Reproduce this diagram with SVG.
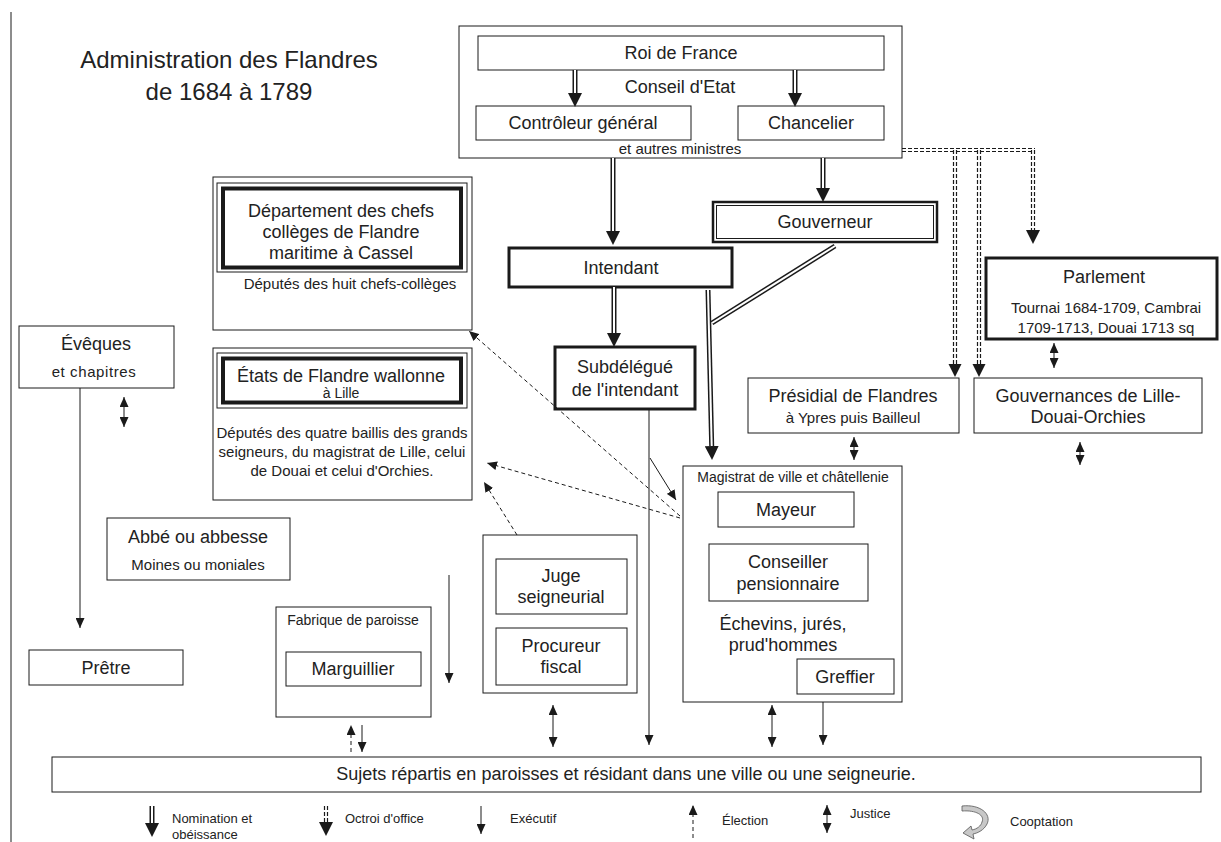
<svg xmlns="http://www.w3.org/2000/svg" width="1221" height="842" viewBox="0 0 1221 842">
<style>
text{font-family:"Liberation Sans",Arial,sans-serif;fill:#222;text-anchor:middle}
.t24{font-size:24px}
.t18{font-size:18px}
.t15{font-size:15px}
.t14{font-size:14px}
.t13{font-size:13px}
.st{text-anchor:start}
.b{fill:#fff;stroke:#1a1a1a;stroke-width:1}
.nf{fill:none;stroke:#1a1a1a;stroke-width:1}
.bk{fill:#fff;stroke:#1a1a1a;stroke-width:3}
.tk{fill:none;stroke:#1a1a1a;stroke-width:4}
.ln{fill:none;stroke:#1a1a1a;stroke-width:1}
.dl{fill:none;stroke:#1a1a1a;stroke-width:1;stroke-dasharray:4 3}
.dbo{fill:none;stroke:#1a1a1a;stroke-width:5}
.dbi{fill:none;stroke:#fff;stroke-width:2}
.oc{fill:none;stroke:#1a1a1a;stroke-width:1.2;stroke-dasharray:4 2}
.hd{fill:#1a1a1a}
</style>
<defs>
<marker id="H" markerUnits="userSpaceOnUse" viewBox="0 0 14 14" refX="0" refY="7" markerWidth="14" markerHeight="14" orient="auto"><path d="M0,0L14,7L0,14z" fill="#1a1a1a"/></marker>
<marker id="S" markerUnits="userSpaceOnUse" viewBox="0 0 10 9" refX="10" refY="4.5" markerWidth="10" markerHeight="9" orient="auto-start-reverse"><path d="M0,0L10,4.5L0,9z" fill="#1a1a1a"/></marker>
</defs>

<line x1="11" y1="12" x2="11" y2="842" class="ln"/>

<g id="title">
<text class="t24" x="229" y="68">Administration des Flandres</text>
<text class="t24" x="229" y="100">de 1684 à 1789</text>
</g>

<g id="conseil">
<rect x="459" y="26" width="443" height="132" class="b"/>
<text class="t18" x="680" y="93">Conseil d'Etat</text>
<text class="t15" x="680" y="154">et autres ministres</text>
</g>
<g id="roi">
<rect x="478" y="36" width="406" height="34" class="b"/>
<text class="t18" x="681" y="59">Roi de France</text>
</g>
<g id="controleur">
<rect x="476" y="106" width="215" height="34" class="b"/>
<text class="t18" x="583" y="129">Contrôleur général</text>
</g>
<g id="chancelier">
<rect x="738" y="106" width="146" height="34" class="b"/>
<text class="t18" x="811" y="129">Chancelier</text>
</g>

<g id="gouverneur">
<rect x="713" y="202" width="224" height="40" fill="#fff" stroke="#1a1a1a" stroke-width="2.5"/>
<rect x="716.5" y="205.5" width="217" height="33" class="nf"/>
<text class="t18" x="825" y="228">Gouverneur</text>
</g>

<g id="intendant">
<rect x="509" y="248" width="223" height="39" class="bk"/>
<text class="t18" x="621" y="274">Intendant</text>
</g>

<g id="subdelegue">
<rect x="555" y="347" width="140" height="62" class="bk"/>
<text class="t18" x="625" y="373">Subdélégué</text>
<text class="t18" x="625" y="396">de l'intendant</text>
</g>

<g id="departement">
<rect x="213" y="177" width="259" height="153" class="b"/>
<rect x="217" y="183" width="250" height="89" class="nf"/>
<rect x="223" y="188.5" width="238" height="79" class="tk"/>
<text class="t18" x="341" y="217">Département des chefs</text>
<text class="t18" x="341" y="238">collèges de Flandre</text>
<text class="t18" x="341" y="259">maritime à Cassel</text>
<text class="t15" x="350" y="289">Députés des huit chefs-collèges</text>
</g>

<g id="etats">
<rect x="213" y="348" width="259" height="152" class="b"/>
<rect x="217" y="353" width="250" height="55" class="nf"/>
<rect x="223" y="358.5" width="238" height="44" class="tk"/>
<text class="t18" x="341" y="382">États de Flandre wallonne</text>
<text class="t14" x="341" y="398">à Lille</text>
<text class="t15" x="342" y="438">Députés des quatre baillis des grands</text>
<text class="t15" x="342" y="457">seigneurs, du magistrat de Lille, celui</text>
<text class="t15" x="342" y="476">de Douai et celui d'Orchies.</text>
</g>

<g id="parlement">
<rect x="986" y="258" width="231" height="81" class="bk"/>
<text class="t18" x="1104" y="283">Parlement</text>
<text class="t15" x="1106" y="313">Tournai 1684-1709, Cambrai</text>
<text class="t15" x="1106" y="333">1709-1713, Douai 1713 sq</text>
</g>

<g id="presidial">
<rect x="748" y="378" width="211" height="55" class="b"/>
<text class="t18" x="853" y="402">Présidial de Flandres</text>
<text class="t15" x="853" y="423">à Ypres puis Bailleul</text>
</g>

<g id="gouvernances">
<rect x="974" y="378" width="228" height="55" class="b"/>
<text class="t18" x="1088" y="402">Gouvernances de Lille-</text>
<text class="t18" x="1088" y="423">Douai-Orchies</text>
</g>

<g id="eveques">
<rect x="19" y="326" width="155" height="62" class="b"/>
<text class="t18" x="96" y="350">Évêques</text>
<text class="t15" x="94" y="377" letter-spacing="0.6">et chapitres</text>
</g>

<g id="abbe">
<rect x="107" y="518" width="183" height="62" class="b"/>
<text class="t18" x="198" y="543">Abbé ou abbesse</text>
<text class="t15" x="198" y="570">Moines ou moniales</text>
</g>

<g id="pretre">
<rect x="29" y="650" width="154" height="35" class="b"/>
<text class="t18" x="106" y="674">Prêtre</text>
</g>

<g id="fabrique">
<rect x="276" y="607" width="155" height="110" class="b"/>
<text class="t14" x="353" y="625">Fabrique de paroisse</text>
</g>
<g id="marguillier">
<rect x="286" y="652" width="135" height="34" class="b"/>
<text class="t18" x="353" y="675">Marguillier</text>
</g>

<g id="seigneurie">
<rect x="483" y="535" width="154" height="158" class="b"/>
</g>
<g id="juge">
<rect x="496" y="559" width="131" height="55" class="b"/>
<text class="t18" x="561" y="582">Juge</text>
<text class="t18" x="561" y="603">seigneurial</text>
</g>
<g id="procureur">
<rect x="496" y="628" width="131" height="57" class="b"/>
<text class="t18" x="561" y="652">Procureur</text>
<text class="t18" x="561" y="673">fiscal</text>
</g>

<g id="magistrat">
<rect x="683" y="466" width="219" height="236" class="b"/>
<text class="t14" x="793" y="482">Magistrat de ville et châtellenie</text>
<text class="t18" x="783" y="630">Échevins, jurés,</text>
<text class="t18" x="783" y="651">prud'hommes</text>
</g>
<g id="mayeur">
<rect x="718" y="492" width="136" height="35" class="b"/>
<text class="t18" x="786" y="516">Mayeur</text>
</g>
<g id="conseiller">
<rect x="709" y="544" width="159" height="57" class="b"/>
<text class="t18" x="788" y="568">Conseiller</text>
<text class="t18" x="788" y="590">pensionnaire</text>
</g>
<g id="greffier">
<rect x="797" y="659" width="97" height="35" class="b"/>
<text class="t18" x="845" y="683">Greffier</text>
</g>

<g id="sujets">
<rect x="52" y="757" width="1149" height="35" class="b"/>
<text class="t18" x="626" y="780">Sujets répartis en paroisses et résidant dans une ville ou une seigneurie.</text>
</g>

<g id="connectors">
<path class="dbo" d="M575,70V93" marker-end="url(#H)"/><path class="dbi" d="M575,70V93"/>
<path class="dbo" d="M795,70V93" marker-end="url(#H)"/><path class="dbi" d="M795,70V93"/>
<path class="dbo" d="M613,158V231" marker-end="url(#H)"/><path class="dbi" d="M613,158V231"/>
<path class="dbo" d="M823,158V188" marker-end="url(#H)"/><path class="dbi" d="M823,158V188"/>
<path class="dbo" d="M614,287V333" marker-end="url(#H)"/><path class="dbi" d="M614,287V333"/>
<path class="dbo" d="M708,290L711.7,446" marker-end="url(#H)"/><path class="dbi" d="M708,290L711.7,446"/>
<path class="dbo" d="M835,246L712,323"/><path class="dbi" d="M835,246L712,323"/>
<path class="oc" d="M902,148.5H1035M902,151.5H1035"/>
<path class="oc" d="M953.5,150V364M956.5,150V364"/>
<polygon class="hd" points="948.5,364 961.5,364 955,377"/>
<path class="oc" stroke-width="1.5" d="M977.5,150V364M980.5,150V364"/>
<polygon class="hd" points="972.5,364 985.5,364 979,377"/>
<path class="oc" stroke-width="2" d="M1031.5,150V231M1034.5,150V231"/>
<polygon class="hd" points="1026,230 1040,230 1033,244"/>
<path class="ln" d="M649,409V745" marker-end="url(#S)"/>
<path class="ln" d="M650,458L676,500" marker-end="url(#S)"/>
<path class="ln" d="M80,388V628" marker-end="url(#S)"/>
<path class="ln" d="M449,575V683" marker-end="url(#S)"/>
<path class="ln" d="M362,725V752" marker-end="url(#S)"/>
<path class="ln" d="M823,702V745" marker-end="url(#S)"/>
<path class="dl" d="M680,516L469,331" marker-end="url(#S)"/>
<path class="dl" d="M680,518L487,463" marker-end="url(#S)"/>
<path class="dl" d="M517,535L484,482" marker-end="url(#S)"/>
<path class="dl" d="M351,752V725" marker-end="url(#S)"/>
<path class="ln" d="M124,397V427" marker-start="url(#S)" marker-end="url(#S)"/>
<path class="ln" d="M553,705V747" marker-start="url(#S)" marker-end="url(#S)"/>
<path class="ln" d="M772,705V747" marker-start="url(#S)" marker-end="url(#S)"/>
<path class="ln" d="M1054,343V368" marker-start="url(#S)" marker-end="url(#S)"/>
<path class="ln" d="M854,437V460" marker-start="url(#S)" marker-end="url(#S)"/>
<path class="ln" d="M1080,442V465" marker-start="url(#S)" marker-end="url(#S)"/>
</g>

<g id="legend">
<path class="dbo" d="M152,806V823" marker-end="url(#H)"/><path class="dbi" d="M152,806V823"/>
<text class="t13 st" x="172" y="823">Nomination et</text>
<text class="t13 st" x="172" y="839">obéissance</text>
<path class="oc" stroke-dasharray="2 2" d="M324.5,806V822M327.5,806V822"/>
<polygon class="hd" points="319,822 333,822 326,836"/>
<text class="t13 st" x="345" y="823">Octroi d'office</text>
<path class="ln" d="M481,806V834" marker-end="url(#S)"/>
<text class="t13 st" x="510" y="823">Exécutif</text>
<path class="dl" d="M693,838V805" marker-end="url(#S)"/>
<text class="t13 st" x="722" y="825">Élection</text>
<path class="ln" d="M827,805V833" marker-start="url(#S)" marker-end="url(#S)"/>
<text class="t13 st" x="850" y="818">Justice</text>
<path d="M962,806C980,804 992,814 987,824C984,830 978,833 973,834L974,839L963,833L971,826L972,830C977,829 981,826 982,822C985,815 976,810 962,811Z" fill="#c8c8c8" stroke="#555" stroke-width="0.8"/>
<text class="t13 st" x="1010" y="826">Cooptation</text>
</g>
</svg>
